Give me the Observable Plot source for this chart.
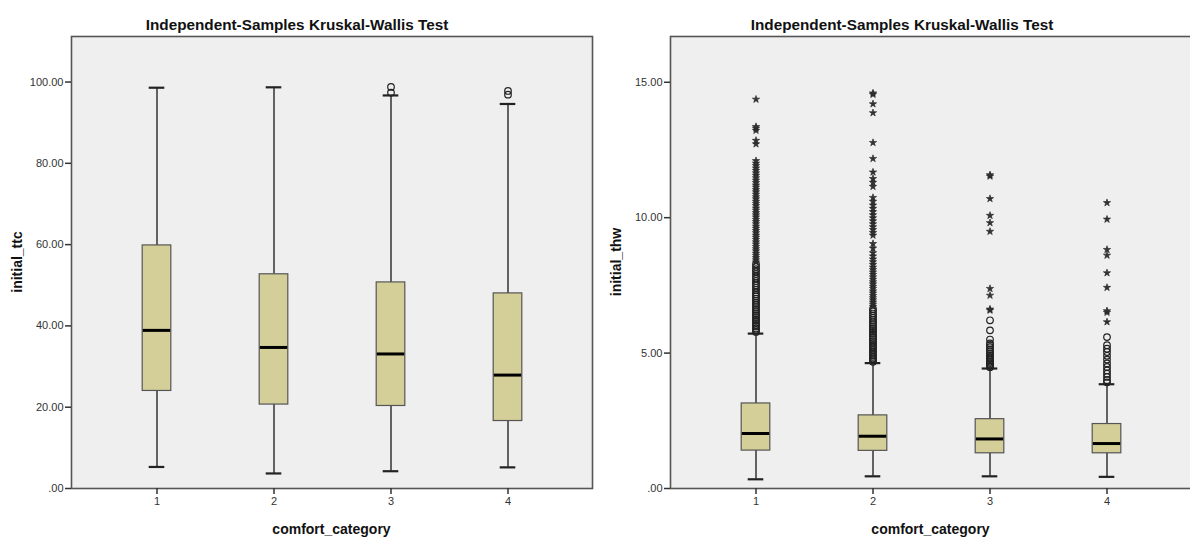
<!DOCTYPE html>
<html><head><meta charset="utf-8">
<script src="https://cdn.jsdelivr.net/npm/d3@7"></script>
<script src="https://cdn.jsdelivr.net/npm/@observablehq/plot@0.6"></script>
<style>
html,body{margin:0;padding:0;background:#fff;}
body{width:1190px;height:538px;overflow:hidden;position:relative;font-family:"Liberation Sans",Arial,sans-serif;}
.panel{position:absolute;top:0;width:600px;height:538px;}
</style></head><body>
<div id="left" class="panel" style="left:0"></div>
<div id="right" class="panel" style="left:599px"></div>
<script>
const categories = ["1","2","3","4"];
const titleText = "Independent-Samples Kruskal-Wallis Test";
const xLabel = "comfort_category";

// Left panel: initial_ttc
const ttcQ1  = [24.0, 20.65, 20.3, 16.6];
const ttcMed = [38.9, 34.7, 33.1, 27.9];
const ttcQ3  = [59.8, 52.7, 50.7, 48.0];
const ttcLo  = [5.3, 3.7, 4.25, 5.2];
const ttcHi  = [98.6, 98.7, 96.7, 94.6];
const ttcCircles = [[], [], [97.4, 98.8], [96.9, 97.8]];
const ttcStars = [[], [], [], []];
const ttcTicks = [0, 20, 40, 60, 80, 100];

// Right panel: initial_thw
const thwQ1  = [1.40, 1.39, 1.30, 1.30];
const thwMed = [2.03, 1.93, 1.83, 1.66];
const thwQ3  = [3.14, 2.70, 2.56, 2.38];
const thwLo  = [0.34, 0.45, 0.45, 0.43];
const thwHi  = [5.72, 4.63, 4.43, 3.85];
const thwCircles = [
  [5.78,5.85,5.91,5.98,6.04,6.11,6.19,6.25,6.33,6.40,6.47,6.55,6.62,6.70,6.78,6.85,6.93,7.01,7.09,7.16,7.24,7.33,7.41,7.50,7.58,7.66,7.75,7.83,7.92,8.01,8.10,8.19,8.28],
  [4.68,4.74,4.80,4.86,4.92,4.98,5.05,5.11,5.17,5.24,5.30,5.37,5.43,5.50,5.57,5.64,5.71,5.78,5.85,5.92,5.99,6.07,6.14,6.22,6.30,6.38,6.46,6.55,6.63],
  [4.48,4.53,4.58,4.63,4.68,4.74,4.80,4.86,4.92,4.99,5.06,5.14,5.22,5.30,5.36,5.50,5.84,6.21],
  [3.92,4.00,4.12,4.24,4.36,4.49,4.62,4.76,4.90,5.04,5.16,5.29,5.59]
];
const thwStars = [
  [8.36,8.44,8.52,8.60,8.68,8.77,8.85,8.93,9.02,9.10,9.19,9.27,9.35,9.44,9.52,9.60,9.68,9.77,9.85,9.93,10.02,10.10,10.18,10.27,10.35,10.44,10.52,10.60,10.69,10.77,10.86,10.95,11.03,11.12,11.20,11.29,11.38,11.47,11.56,11.65,11.74,11.83,11.92,12.01,12.10,12.72,12.85,13.22,13.30,13.36,14.37],
  [6.72,6.80,6.88,6.96,7.04,7.12,7.21,7.29,7.38,7.46,7.55,7.63,7.72,7.81,7.90,7.99,8.08,8.17,8.27,8.37,8.47,8.58,8.70,8.87,9.04,9.35,9.45,9.56,9.66,9.77,9.88,9.99,10.10,10.22,10.34,10.46,10.60,10.74,11.15,11.30,11.44,11.68,12.18,12.77,13.87,14.20,14.55,14.60],
  [6.58,6.62,7.13,7.38,9.49,9.81,10.08,10.70,11.53,11.58],
  [6.15,6.50,6.56,7.42,7.96,8.61,8.82,9.94,10.55]
];
const thwTicks = [0, 5, 10, 15];

const fmt = d => d === 0 ? ".00" : d.toFixed(2);
const FONT = "'Liberation Sans', Arial, sans-serif";

function panel(el, {q1, med, q3, lo, hi, circles, stars, yMax, yTicks, yLabel, titleX}) {
  const boxes = categories.map((c, i) => ({cat: c, q1: q1[i], med: med[i], q3: q3[i], lo: lo[i], hi: hi[i]}));
  const circ = circles.flatMap((arr, i) => arr.map(v => ({cat: categories[i], v})));
  const st = stars.flatMap((arr, i) => arr.map(v => ({cat: categories[i], v})));
  const svg = Plot.plot({
    width: 600, height: 538,
    marginLeft: 71, marginRight: 8, marginTop: 36, marginBottom: 50,
    style: {fontFamily: FONT, fontSize: "11px", color: "#333", background: "transparent", overflow: "visible"},
    x: {type: "band", domain: categories, paddingInner: 0, paddingOuter: 0.22, label: null},
    y: {domain: [0, yMax], label: null},
    marks: [
      Plot.frame({fill: "#efefef", stroke: "none"}),
      Plot.ruleX(boxes, {x: "cat", y1: "q3", y2: "hi", stroke: "#333", strokeWidth: 1.5}),
      Plot.ruleX(boxes, {x: "cat", y1: "lo", y2: "q1", stroke: "#333", strokeWidth: 1.5}),
      Plot.tickY(boxes, {x: "cat", y: "hi", insetLeft: 50.7, insetRight: 50.7, stroke: "#222", strokeWidth: 2.2}),
      Plot.tickY(boxes, {x: "cat", y: "lo", insetLeft: 50.7, insetRight: 50.7, stroke: "#222", strokeWidth: 2.2}),
      Plot.barY(boxes, {x: "cat", y1: "q1", y2: "q3", fill: "#d4cf98", stroke: "#555", strokeWidth: 1.2, insetLeft: 44.2, insetRight: 44.2}),
      Plot.tickY(boxes, {x: "cat", y: "med", stroke: "#000", strokeWidth: 3, insetLeft: 44.8, insetRight: 44.8}),
      Plot.dot(circ, {x: "cat", y: "v", r: 3.3, stroke: "#222", strokeWidth: 1.2, fill: "none"}),
      Plot.dot(st, {x: "cat", y: "v", symbol: "star", r: 2.3, stroke: "#222", strokeWidth: 0.6, fill: "#333"}),
      Plot.frame({stroke: "#555", strokeWidth: 1.6}),
      Plot.axisY({ticks: yTicks, tickFormat: fmt, tickSize: 6, tickPadding: 2, stroke: "#333", strokeWidth: 1.5, label: null}),
      Plot.axisX({tickSize: 6, tickPadding: 3, stroke: "#333", strokeWidth: 1.5, label: null})
    ]
  });
  const s = d3.select(svg);
  s.append("text").attr("x", titleX).attr("y", 29.5)
    .attr("text-anchor", "middle").attr("fill", "#111")
    .style("font", `bold 15.3px ${FONT}`).text(titleText);
  s.append("text").attr("x", 331.5).attr("y", 533.5)
    .attr("text-anchor", "middle").attr("fill", "#111")
    .style("font", `bold 14px ${FONT}`).text(xLabel);
  s.append("text").attr("transform", "translate(22,262) rotate(-90)")
    .attr("text-anchor", "middle").attr("fill", "#111")
    .style("font", `bold 14px ${FONT}`).text(yLabel);
  el.appendChild(svg);
}

panel(document.getElementById("left"), {
  q1: ttcQ1, med: ttcMed, q3: ttcQ3, lo: ttcLo, hi: ttcHi,
  circles: ttcCircles, stars: ttcStars, yMax: 111.2, yTicks: ttcTicks, yLabel: "initial_ttc", titleX: 297
});
panel(document.getElementById("right"), {
  q1: thwQ1, med: thwMed, q3: thwQ3, lo: thwLo, hi: thwHi,
  circles: thwCircles, stars: thwStars, yMax: 16.69, yTicks: thwTicks, yLabel: "initial_thw", titleX: 303
});
</script>
</body></html>
